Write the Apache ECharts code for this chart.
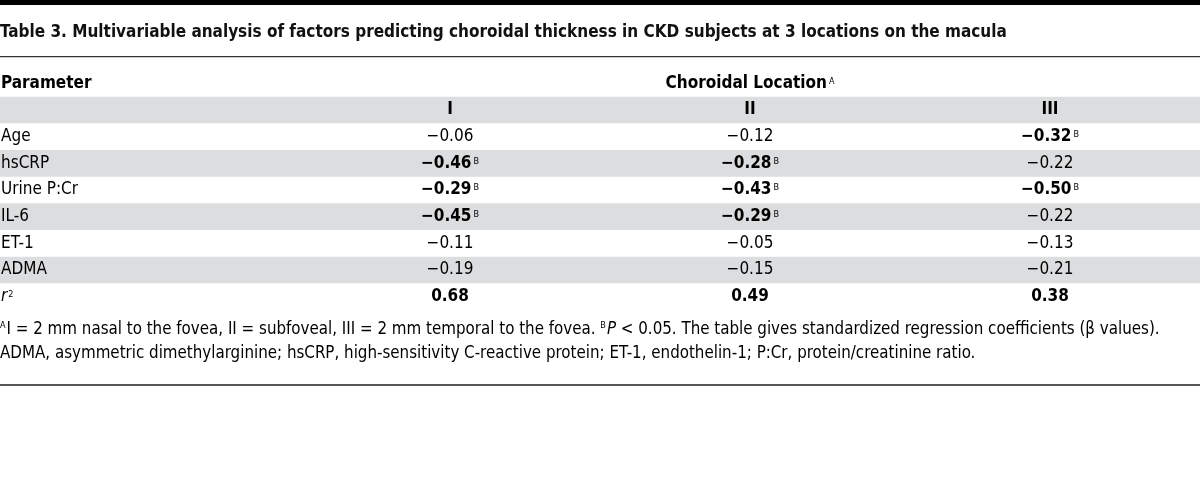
<!DOCTYPE html>
<html><head><meta charset="utf-8">
<script src="https://cdn.jsdelivr.net/npm/echarts@6/dist/echarts.min.js"></script>
<style>html,body{margin:0;padding:0;background:#fff}#c{width:1200px;height:478px}</style>
</head><body><div id="c"></div>
<script>
const FONT = "'DejaVu Sans Condensed', 'Liberation Sans Narrow', 'Roboto Condensed', sans-serif";
const titleText = 'Table 3. Multivariable analysis of factors predicting choroidal thickness in CKD subjects at 3 locations on the macula';
const parameters = ['Age', 'hsCRP', 'Urine P:Cr', 'IL-6', 'ET-1', 'ADMA', 'r2'];
const locations = ['I', 'II', 'III'];
const valuesI   = [-0.06, -0.46, -0.29, -0.45, -0.11, -0.19, 0.68];
const valuesII  = [-0.12, -0.28, -0.43, -0.29, -0.05, -0.15, 0.49];
const valuesIII = [-0.32, -0.22, -0.50, -0.22, -0.13, -0.21, 0.38];
const sigI   = [0, 1, 1, 1, 0, 0, 0];
const sigII  = [0, 1, 1, 1, 0, 0, 0];
const sigIII = [1, 0, 1, 0, 0, 0, 0];
const boldRow = [0, 0, 0, 0, 0, 0, 1];
const shadedRows = [1, 3, 5, 7];

const columns = [valuesI, valuesII, valuesIII];
const sigs = [sigI, sigII, sigIII];
function fmt(v) { return (v < 0 ? '\u2212' : '') + Math.abs(v).toFixed(2); }

const rich = {
  n: { fontFamily: FONT, fontSize: 17, color: '#111' },
  b: { fontFamily: FONT, fontSize: 17, fontWeight: 'bold', color: '#111' },
  i: { fontFamily: FONT, fontSize: 17, fontStyle: 'italic', color: '#111' },
  sup: { fontFamily: FONT, fontSize: 9, color: '#111', verticalAlign: 'top', padding: [2, 0, 0, 1] },
  bsup: { fontFamily: FONT, fontSize: 9, color: '#111', verticalAlign: 'top', padding: [2, 0, 0, 2] }
};

// cells: [col (0=param, 1..3), row, richText, align]
const cells = [];
cells.push([0, 0, '{b|Parameter}', 'left']);
cells.push([2, 0, '{b|Choroidal Location}{bsup|A}', 'center']);
locations.forEach((l, i) => cells.push([i + 1, 1, '{b|' + l + '}', 'center']));
parameters.forEach((p, r) => {
  const label = p === 'r2' ? '{i|r}{sup|2}' : '{n|' + p + '}';
  cells.push([0, r + 2, label, 'left']);
  columns.forEach((col, c) => {
    const s = fmt(col[r]);
    let t;
    if (sigs[c][r]) t = '{b|' + s + '}{bsup|B}';
    else if (boldRow[r]) t = '{b|' + s + '}';
    else t = '{n|' + s + '}';
    cells.push([c + 1, r + 2, t, 'center']);
  });
});

const chart = echarts.init(document.getElementById('c'), null, { renderer: 'canvas' });
chart.setOption({
  animation: false,
  title: {
    text: titleText, left: 0, top: 24, padding: 0,
    textStyle: { fontFamily: FONT, fontSize: 17, fontWeight: 'bold', color: '#111' }
  },
  grid: { left: 0, right: 0, top: 70, height: 240 },
  xAxis: { type: 'value', min: 0, max: 4, show: false },
  yAxis: { type: 'value', min: 0, max: 9, inverse: true, show: false },
  graphic: [
    { type: 'rect', shape: { x: 0, y: 0, width: 1200, height: 5 }, style: { fill: '#000' } },
    { type: 'rect', shape: { x: 0, y: 56, width: 1200, height: 1.2 }, style: { fill: '#333' } },
    { type: 'rect', shape: { x: 0, y: 384, width: 1200, height: 2 }, style: { fill: '#555' } },
    {
      type: 'text', x: 0, y: 318,
      style: {
        text: '{sup|A}{n|I = 2 mm nasal to the fovea, II = subfoveal, III = 2 mm temporal to the fovea. }{sup|B}{i|P}{n| < 0.05. The table gives standardized regression coefficients (\u03B2 values).}\n{n|ADMA, asymmetric dimethylarginine; hsCRP, high-sensitivity C-reactive protein; ET-1, endothelin-1; P:Cr, protein/creatinine ratio.}',
        rich: {
          n: { fontFamily: FONT, fontSize: 16.8, color: '#111', lineHeight: 24 },
          i: { fontFamily: FONT, fontSize: 16.8, fontStyle: 'italic', color: '#111', lineHeight: 24 },
          sup: { fontFamily: FONT, fontSize: 9, color: '#111', verticalAlign: 'top', padding: [3, 1, 0, 0] }
        }
      }
    }
  ],
  series: [
    {
      type: 'custom', silent: true,
      data: shadedRows.map(r => [r]),
      renderItem: function (params, api) {
        const r = api.value(0);
        const p0 = api.coord([0, r]);
        const p1 = api.coord([4, r + 1]);
        return { type: 'rect', shape: { x: p0[0], y: p0[1], width: p1[0] - p0[0], height: p1[1] - p0[1] }, style: { fill: '#dcdddf' } };
      },
      z: 1
    },
    {
      type: 'custom', silent: true,
      data: cells,
      encode: { x: 0, y: 1 },
      renderItem: function (params, api) {
        const cell = cells[params.dataIndex];
        const c = cell[0], r = cell[1];
        const x = cell[3] === 'left' ? api.coord([c, r + 0.5])[0] + 1 : api.coord([c + 0.5, r + 0.5])[0];
        const y = api.coord([c, r + 0.5])[1];
        return {
          type: 'text', x: x, y: y,
          style: { text: cell[2], rich: rich, align: cell[3], verticalAlign: 'middle' }
        };
      },
      z: 2
    }
  ]
});
</script></body></html>
